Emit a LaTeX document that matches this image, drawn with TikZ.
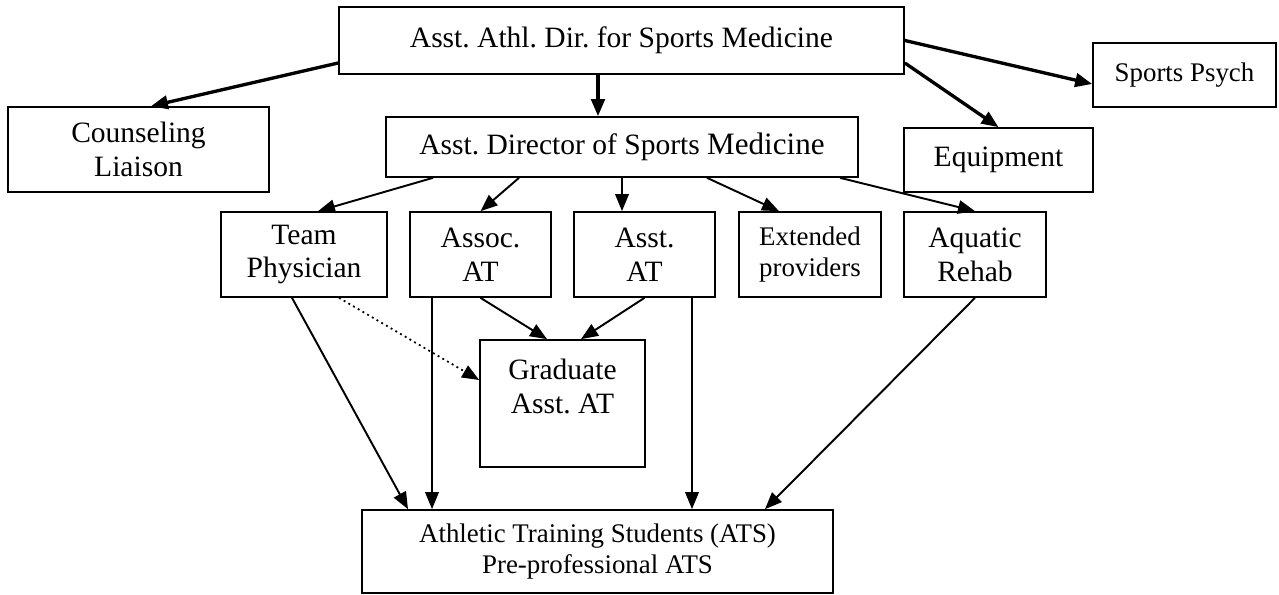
\documentclass[tikz,border=0pt]{standalone}
\usepackage{fontspec}
\setmainfont{Liberation Serif}
\usetikzlibrary{arrows.meta}
\frenchspacing

\tikzset{
    box/.style={draw, line width=0.95pt, align=center, inner sep=0pt, font=\fontsize{16.8}{19.3}\selectfont},
    smallbox/.style={box, font=\fontsize{15.3}{17.6}\selectfont},
    link/.style={-{Triangle[length=0.34cm,width=0.27cm]}, line width=1.1pt},
    heavylink/.style={link, line width=1.9pt},
}

\begin{document}
\begin{tikzpicture}
    \useasboundingbox (0,0) rectangle (25.58,-11.9);
    \node[box, minimum width=11.3cm, minimum height=1.34cm] (dir) at (12.43,-0.81) {Asst. Athl. Dir. for Sports Medicine};
    \node[smallbox, minimum width=3.66cm, minimum height=1.28cm] (psych) at (23.69,-1.5) {Sports Psych};
    \node[box, minimum width=5.22cm, minimum height=1.7cm] (couns) at (2.77,-2.99) {Counseling\\Liaison};
    \node[box, minimum width=9.44cm, minimum height=1.2cm] (asstdir) at (12.44,-2.94) {Asst. Director of Sports {\fontsize{17.7}{19.3}\selectfont Medicine}};
    \node[box, minimum width=3.78cm, minimum height=1.28cm] (equip) at (19.97,-3.2) {Equipment};
    \node[box, minimum width=3.32cm, minimum height=1.7cm] (team) at (6.08,-5.09) {Team\\Physician};
    \node[box, minimum width=2.82cm, minimum height=1.7cm] (assoc) at (9.61,-5.09) {Assoc.\\AT};
    \node[box, minimum width=2.82cm, minimum height=1.7cm] (asstat) at (12.89,-5.09) {Asst.\\AT};
    \node[smallbox, minimum width=2.84cm, minimum height=1.7cm] (ext) at (16.2,-5.09) {Extended\\providers};
    \node[box, minimum width=2.84cm, minimum height=1.7cm] (aqua) at (19.5,-5.09) {Aquatic\\Rehab};
    \node[box, minimum width=3.3cm, minimum height=2.54cm] (grad) at (11.25,-8.07) {};
    \node[box, draw=none, anchor=north] (gradtext) at ([yshift=-0.38cm]grad.north) {Graduate\\Asst. AT};
    \node[smallbox, minimum width=9.42cm, minimum height=1.66cm] (ats) at (11.95,-11.03) {Athletic Training Students (ATS)\\Pre-professional ATS};

    \draw[heavylink] ([yshift=-0.45cm]dir.west) -- ([xshift=0.25cm]couns.north);
    \draw[heavylink] ([xshift=-0.47cm]dir.south) -- ([xshift=-0.47cm]dir.south |- asstdir.north);
    \draw[heavylink] (dir.east) -- ([yshift=-0.18cm]psych.west);
    \draw[heavylink] ([yshift=-0.45cm]dir.east) -- (equip.north);

    \draw[link] ([xshift=-3.78cm]asstdir.south) -- ([xshift=0.28cm]team.north);
    \draw[link] ([xshift=-2.06cm]asstdir.south) -- (assoc.north);
    \draw[link] (asstdir.south) -- (asstdir.south |- asstat.north);
    \draw[link] ([xshift=1.7cm]asstdir.south) -- ([xshift=-0.62cm]ext.north);
    \draw[link] ([xshift=4.36cm]asstdir.south) -- (aqua.north);

    \draw[link] ([xshift=-0.24cm]team.south) -- ([xshift=-3.79cm]ats.north);
    \draw[link, dotted, line width=1pt] ([xshift=0.7cm]team.south) -- ([yshift=0.47cm]grad.west);
    \draw[link] ([xshift=-0.97cm]assoc.south) -- ([xshift=-0.97cm]assoc.south |- ats.north);
    \draw[link] (assoc.south) -- ([xshift=-0.31cm]grad.north);
    \draw[link] (asstat.south) -- ([xshift=0.37cm]grad.north);
    \draw[link] ([xshift=0.95cm]asstat.south) -- ([xshift=0.95cm]asstat.south |- ats.north);
    \draw[link] (aqua.south) -- ([xshift=3.35cm]ats.north);
\end{tikzpicture}
\end{document}
